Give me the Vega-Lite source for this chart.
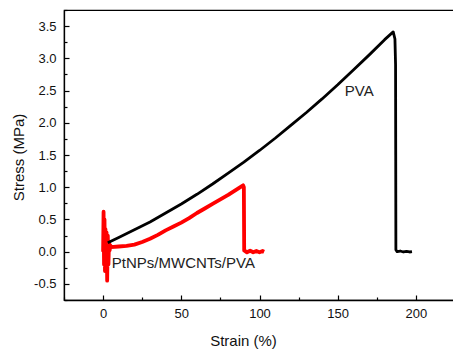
{
  "$schema": "https://vega.github.io/schema/vega-lite/v6.json",
  "width": 391,
  "height": 290,
  "autosize": "none",
  "padding": {"left": 64, "top": 10, "right": 0, "bottom": 49},
  "background": "white",
  "config": {
    "view": {"stroke": "#000", "strokeWidth": 1.2},
    "axis": {
      "domainColor": "#000", "domainWidth": 1.3,
      "tickColor": "#000", "tickWidth": 1.2,
      "labelFont": "Liberation Sans", "labelFontSize": 13, "labelColor": "#111",
      "titleFont": "Liberation Sans", "titleFontSize": 15, "titleFontWeight": "normal", "titleColor": "#111",
      "grid": false
    }
  },
  "datasets": {
    "pva": [
      {"strain": 3, "stress": 0.14}, {"strain": 10, "stress": 0.22}, {"strain": 20, "stress": 0.34},
      {"strain": 30, "stress": 0.46}, {"strain": 40, "stress": 0.6}, {"strain": 50, "stress": 0.74},
      {"strain": 60, "stress": 0.89}, {"strain": 70, "stress": 1.05}, {"strain": 80, "stress": 1.22},
      {"strain": 90, "stress": 1.39}, {"strain": 100, "stress": 1.57}, {"strain": 110, "stress": 1.76},
      {"strain": 120, "stress": 1.96}, {"strain": 130, "stress": 2.16}, {"strain": 140, "stress": 2.37},
      {"strain": 150, "stress": 2.59}, {"strain": 160, "stress": 2.82}, {"strain": 170, "stress": 3.05},
      {"strain": 180, "stress": 3.29}, {"strain": 185.5, "stress": 3.41}, {"strain": 186.6, "stress": 3.3},
      {"strain": 187, "stress": 2.9}, {"strain": 187.1, "stress": 1.5}, {"strain": 187.2, "stress": 0.03},
      {"strain": 188, "stress": 0.0}, {"strain": 190, "stress": 0.01}, {"strain": 192, "stress": -0.005},
      {"strain": 194, "stress": 0.005}, {"strain": 196, "stress": -0.005}, {"strain": 197.5, "stress": 0.0}
    ],
    "composite": [
      {"strain": 0, "stress": 0.0}, {"strain": 0.3, "stress": 0.62}, {"strain": 0.6, "stress": -0.2},
      {"strain": 0.9, "stress": 0.5}, {"strain": 1.2, "stress": -0.3}, {"strain": 1.5, "stress": 0.35},
      {"strain": 1.8, "stress": -0.1}, {"strain": 2.2, "stress": 0.3}, {"strain": 2.6, "stress": -0.45},
      {"strain": 3.0, "stress": 0.25}, {"strain": 3.4, "stress": -0.2}, {"strain": 3.8, "stress": 0.15},
      {"strain": 4.2, "stress": 0.02}, {"strain": 4.6, "stress": 0.1}, {"strain": 5, "stress": 0.07},
      {"strain": 10, "stress": 0.08}, {"strain": 15, "stress": 0.09}, {"strain": 20, "stress": 0.11},
      {"strain": 25, "stress": 0.15}, {"strain": 30, "stress": 0.2}, {"strain": 35, "stress": 0.26},
      {"strain": 40, "stress": 0.33}, {"strain": 45, "stress": 0.39}, {"strain": 50, "stress": 0.45},
      {"strain": 55, "stress": 0.52}, {"strain": 60, "stress": 0.6}, {"strain": 65, "stress": 0.67},
      {"strain": 70, "stress": 0.74}, {"strain": 75, "stress": 0.81}, {"strain": 80, "stress": 0.88},
      {"strain": 85, "stress": 0.96}, {"strain": 89.5, "stress": 1.03}, {"strain": 90, "stress": 1.0},
      {"strain": 90.2, "stress": 0.02}, {"strain": 92, "stress": -0.01}, {"strain": 94, "stress": 0.015},
      {"strain": 96, "stress": -0.01}, {"strain": 98, "stress": 0.01}, {"strain": 100, "stress": -0.01},
      {"strain": 102, "stress": 0.01}, {"strain": 103, "stress": 0.0}
    ],
    "labels": [
      {"strain": 154.5, "stress": 2.5, "label": "PVA"},
      {"strain": 5.6, "stress": -0.18, "label": "PtNPs/MWCNTs/PVA"}
    ]
  },
  "encoding": {
    "x": {
      "field": "strain", "type": "quantitative",
      "scale": {"domain": [-25, 225], "nice": false, "zero": false},
      "axis": {
        "title": "Strain (%)",
        "values": [-25, 0, 25, 50, 75, 100, 125, 150, 175, 200, 225],
        "labelExpr": "datum.value % 50 === 0 ? datum.value + '' : ''",
        "tickSize": {"condition": {"test": "datum.value % 50 === 0", "value": -5}, "value": -3},
        "labelPadding": 12,
        "titleX": 179, "titleY": 45.5, "titleBaseline": "alphabetic", "titleAnchor": "middle"
      }
    },
    "y": {
      "field": "stress", "type": "quantitative",
      "scale": {"domain": [-0.75, 3.75], "nice": false, "zero": false},
      "axis": {
        "title": "Stress (MPa)",
        "values": [-0.75, -0.5, -0.25, 0, 0.25, 0.5, 0.75, 1, 1.25, 1.5, 1.75, 2, 2.25, 2.5, 2.75, 3, 3.25, 3.5, 3.75],
        "labelExpr": "(datum.value * 2) % 1 === 0 && abs(datum.value) < 3.7 ? (datum.value < 0 ? '-' + format(-datum.value, '.1f') : format(datum.value, '.1f')) : ''",
        "tickSize": {"condition": {"test": "(datum.value * 2) % 1 === 0", "value": -5}, "value": -3},
        "labelPadding": 13,
        "titleX": -46, "titleY": 147, "titleBaseline": "middle", "titleAnchor": "middle"
      }
    }
  },
  "layer": [
    {
      "data": {"name": "composite"},
      "mark": {"type": "line", "color": "#ff0000", "strokeWidth": 3.8, "strokeJoin": "round"}
    },
    {
      "data": {"name": "pva"},
      "mark": {"type": "line", "color": "#000000", "strokeWidth": 2.8, "strokeJoin": "round"}
    },
    {
      "data": {"name": "labels"},
      "mark": {"type": "text", "align": "left", "baseline": "middle", "font": "Liberation Sans", "fontSize": 15, "color": "#222"},
      "encoding": {"text": {"field": "label", "type": "nominal"}}
    }
  ]
}
